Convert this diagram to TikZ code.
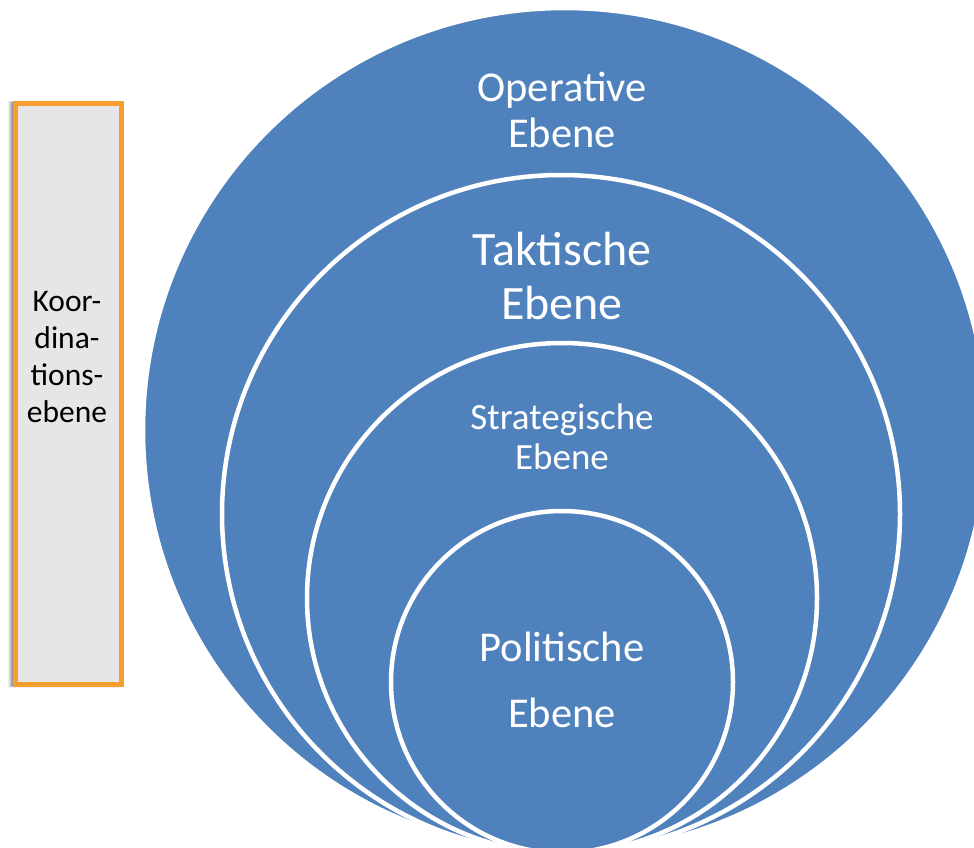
\documentclass[tikz,border=0pt]{standalone}
\usepackage{fontspec}
\setmainfont{Carlito}
\begin{document}
\begin{tikzpicture}[x=1pt,y=-1pt,
  level/.style={fill=lvlblue,draw=white,line width=4.5},
  lvltext/.style={text=white,align=center,inner sep=0pt},
  coordbox/.style={fill=boxgray,draw=boxorange,line width=5},
]
\definecolor{lvlblue}{HTML}{4F81BD}
\definecolor{boxgray}{HTML}{E6E6E6}
\definecolor{boxorange}{HTML}{F79E2E}
\useasboundingbox (0,0) rectangle (974,847);
\clip (0,0) rectangle (974,847);

% soft shadow of the side box
\foreach \o/\a in {7/0.06,6/0.08,5/0.10,4/0.12,3/0.14}{
  \fill[black,opacity=\a] (15-\o,103-\o*0.3) rectangle (121-\o*0.3,684+\o*0.5);
}
\node[coordbox,minimum width=106,minimum height=581,inner sep=0pt] (koord) at (68,393.5) {};
\node[lvltext,text=black,font=\fontsize{31.5}{37}\selectfont] (koordtxt) at (67,357) {Koor-\\dina-\\tions-\\ebene};

% nested levels, all touching at the bottom
\draw[level] (565,430) circle[radius=422];
\draw[level] (561,514) circle[radius=339];
\draw[level] (562,598) circle[radius=255];
\draw[level] (562,682) circle[radius=171];

\node[lvltext,font=\fontsize{42.5}{46}\selectfont] (oper) at (562,110) {Operative\\Ebene};
\node[lvltext,font=\fontsize{48}{54}\selectfont] (takt) at (562,276) {Taktische\\Ebene};
\node[lvltext,font=\fontsize{37}{40}\selectfont] (strat) at (562,437) {Strategische\\Ebene};
\node[lvltext,font=\fontsize{42.5}{66}\selectfont] (polit) at (562,680) {Politische\\Ebene};
\end{tikzpicture}
\end{document}
